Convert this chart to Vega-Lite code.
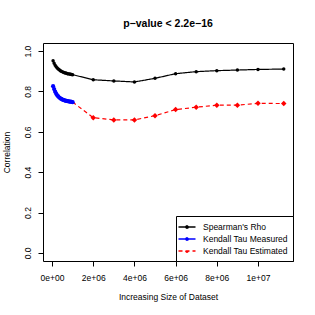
{
  "$schema": "https://vega.github.io/schema/vega-lite/v6.json",
  "width": 250,
  "height": 218,
  "autosize": "none",
  "padding": {"left": 43, "top": 43, "right": 22, "bottom": 54},
  "background": "white",
  "config": {
    "font": "Liberation Sans",
    "view": {"stroke": "black", "strokeWidth": 1},
    "axis": {"grid": false, "domain": false, "tickColor": "black", "tickSize": 5, "labelFont": "Liberation Sans", "labelFontSize": 8.5, "labelColor": "black", "titleFont": "Liberation Sans", "titleFontSize": 8.5, "titleFontWeight": "normal", "titleColor": "black"}
  },
  "title": {"text": "p\u2212value < 2.2e\u221216", "fontSize": 10.5, "fontWeight": "bold", "font": "Liberation Sans", "anchor": "middle", "offset": 14, "color": "black"},
  "data": {"values": [
    {"series": "Spearman's Rho", "x": 50000, "y": 0.952},
    {"series": "Spearman's Rho", "x": 100000, "y": 0.940},
    {"series": "Spearman's Rho", "x": 150000, "y": 0.930},
    {"series": "Spearman's Rho", "x": 200000, "y": 0.922},
    {"series": "Spearman's Rho", "x": 250000, "y": 0.916},
    {"series": "Spearman's Rho", "x": 300000, "y": 0.911},
    {"series": "Spearman's Rho", "x": 350000, "y": 0.907},
    {"series": "Spearman's Rho", "x": 400000, "y": 0.903},
    {"series": "Spearman's Rho", "x": 450000, "y": 0.900},
    {"series": "Spearman's Rho", "x": 500000, "y": 0.897},
    {"series": "Spearman's Rho", "x": 550000, "y": 0.895},
    {"series": "Spearman's Rho", "x": 600000, "y": 0.893},
    {"series": "Spearman's Rho", "x": 650000, "y": 0.891},
    {"series": "Spearman's Rho", "x": 700000, "y": 0.890},
    {"series": "Spearman's Rho", "x": 750000, "y": 0.888},
    {"series": "Spearman's Rho", "x": 800000, "y": 0.887},
    {"series": "Spearman's Rho", "x": 850000, "y": 0.886},
    {"series": "Spearman's Rho", "x": 900000, "y": 0.885},
    {"series": "Spearman's Rho", "x": 950000, "y": 0.884},
    {"series": "Spearman's Rho", "x": 1000000, "y": 0.883},
    {"series": "Spearman's Rho", "x": 2000000, "y": 0.858},
    {"series": "Spearman's Rho", "x": 3000000, "y": 0.852},
    {"series": "Spearman's Rho", "x": 4000000, "y": 0.847},
    {"series": "Spearman's Rho", "x": 5000000, "y": 0.865},
    {"series": "Spearman's Rho", "x": 6000000, "y": 0.888},
    {"series": "Spearman's Rho", "x": 7000000, "y": 0.898},
    {"series": "Spearman's Rho", "x": 8000000, "y": 0.903},
    {"series": "Spearman's Rho", "x": 9000000, "y": 0.906},
    {"series": "Spearman's Rho", "x": 10000000, "y": 0.909},
    {"series": "Spearman's Rho", "x": 11250000, "y": 0.911},
    {"series": "Kendall Tau Measured", "x": 50000, "y": 0.826},
    {"series": "Kendall Tau Measured", "x": 100000, "y": 0.812},
    {"series": "Kendall Tau Measured", "x": 150000, "y": 0.799},
    {"series": "Kendall Tau Measured", "x": 200000, "y": 0.789},
    {"series": "Kendall Tau Measured", "x": 250000, "y": 0.781},
    {"series": "Kendall Tau Measured", "x": 300000, "y": 0.775},
    {"series": "Kendall Tau Measured", "x": 350000, "y": 0.770},
    {"series": "Kendall Tau Measured", "x": 400000, "y": 0.766},
    {"series": "Kendall Tau Measured", "x": 450000, "y": 0.763},
    {"series": "Kendall Tau Measured", "x": 500000, "y": 0.760},
    {"series": "Kendall Tau Measured", "x": 550000, "y": 0.758},
    {"series": "Kendall Tau Measured", "x": 600000, "y": 0.756},
    {"series": "Kendall Tau Measured", "x": 650000, "y": 0.754},
    {"series": "Kendall Tau Measured", "x": 700000, "y": 0.753},
    {"series": "Kendall Tau Measured", "x": 750000, "y": 0.752},
    {"series": "Kendall Tau Measured", "x": 800000, "y": 0.751},
    {"series": "Kendall Tau Measured", "x": 850000, "y": 0.750},
    {"series": "Kendall Tau Measured", "x": 900000, "y": 0.749},
    {"series": "Kendall Tau Measured", "x": 950000, "y": 0.748},
    {"series": "Kendall Tau Measured", "x": 1000000, "y": 0.747},
    {"series": "Kendall Tau Estimated", "x": 1000000, "y": 0.747},
    {"series": "Kendall Tau Estimated", "x": 2000000, "y": 0.670},
    {"series": "Kendall Tau Estimated", "x": 3000000, "y": 0.659},
    {"series": "Kendall Tau Estimated", "x": 4000000, "y": 0.659},
    {"series": "Kendall Tau Estimated", "x": 5000000, "y": 0.680},
    {"series": "Kendall Tau Estimated", "x": 6000000, "y": 0.710},
    {"series": "Kendall Tau Estimated", "x": 7000000, "y": 0.722},
    {"series": "Kendall Tau Estimated", "x": 8000000, "y": 0.732},
    {"series": "Kendall Tau Estimated", "x": 9000000, "y": 0.732},
    {"series": "Kendall Tau Estimated", "x": 10000000, "y": 0.741},
    {"series": "Kendall Tau Estimated", "x": 11250000, "y": 0.740}
  ]},
  "encoding": {
    "x": {"field": "x", "type": "quantitative", "title": "Increasing Size of Dataset",
      "scale": {"domain": [-440000, 11700000], "nice": false, "zero": false},
      "axis": {"values": [0, 2000000, 4000000, 6000000, 8000000, 10000000], "labelPadding": 7, "titlePadding": 11,
        "labelExpr": "datum.value == 0 ? '0e+00' : datum.value == 10000000 ? '1e+07' : format(datum.value / 1000000, 'd') + 'e+06'"}},
    "y": {"field": "y", "type": "quantitative", "title": "Correlation",
      "scale": {"domain": [-0.04, 1.04], "nice": false, "zero": false},
      "axis": {"values": [0, 0.2, 0.4, 0.6, 0.8, 1.0], "format": ".1f", "labelAngle": -90, "labelAlign": "center", "labelBaseline": "bottom", "labelPadding": 6, "titlePadding": 12}}
  },
  "layer": [
    {
      "mark": {"type": "line", "strokeWidth": 1.2},
      "encoding": {
        "color": {"field": "series", "type": "nominal",
          "scale": {"domain": ["Spearman's Rho", "Kendall Tau Measured", "Kendall Tau Estimated"], "range": ["black", "blue", "red"]},
          "legend": {"title": null, "orient": "bottom-right", "offset": 0, "strokeColor": "black", "fillColor": "white", "padding": 5, "rowPadding": 1, "labelFontSize": 8.5, "labelFont": "Liberation Sans", "labelColor": "black", "labelOffset": 10, "symbolType": "M-1.7,0H1.7M-0.25,0a0.25,0.25 0 1,0 0.5,0a0.25,0.25 0 1,0 -0.5,0", "symbolSize": 100, "symbolStrokeWidth": 1.3, "cornerRadius": 0}},
        "strokeDash": {"field": "series", "type": "nominal",
          "scale": {"domain": ["Spearman's Rho", "Kendall Tau Measured", "Kendall Tau Estimated"], "range": [[1, 0], [1, 0], [4, 3]]},
          "legend": {"title": null, "orient": "bottom-right"}},
        "strokeWidth": {"value": 1.2}
      }
    },
    {
      "transform": [{"filter": "datum.series == \"Spearman's Rho\""}],
      "mark": {"type": "point", "shape": "circle", "filled": true, "color": "black", "size": 12, "opacity": 1}
    },
    {
      "transform": [{"filter": "datum.series == 'Kendall Tau Measured'"}],
      "mark": {"type": "point", "shape": "circle", "filled": true, "color": "blue", "size": 18, "opacity": 1}
    },
    {
      "transform": [{"filter": "datum.series == 'Kendall Tau Estimated' && datum.x > 1500000"}],
      "mark": {"type": "point", "shape": "diamond", "filled": true, "color": "red", "size": 30, "opacity": 1}
    }
  ]
}
